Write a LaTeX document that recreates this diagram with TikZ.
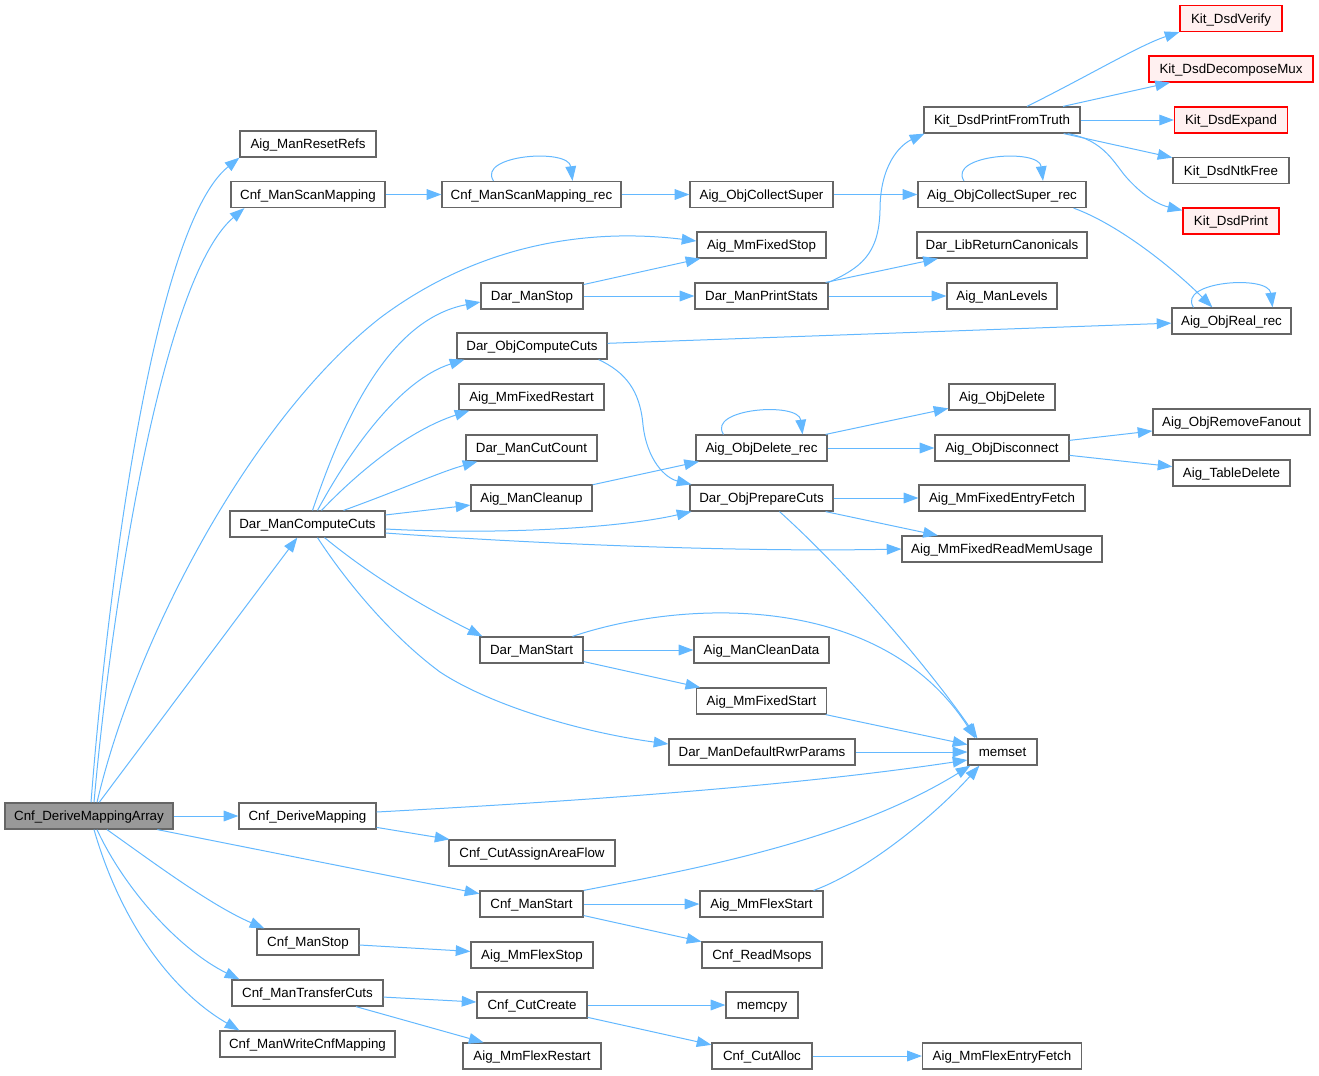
\documentclass[tikz,border=0pt]{standalone}
\usepackage{fontspec}
\setmainfont{Liberation Sans}
\usetikzlibrary{arrows.meta,calc}
\definecolor{edgeblue}{HTML}{63B8FF}
\definecolor{nodeborder}{HTML}{666666}
\definecolor{rootfill}{HTML}{999999}
\definecolor{redfill}{HTML}{FFF0F0}
\definecolor{redborder}{HTML}{FF0000}
\newcommand{\selfloop}[1]{\draw[lnk] ($(#1.north)+(-38,0)$) .. controls +(-17,-26) and +(-4,-33) .. ($(#1.north)+(41,0)$);}
\begin{document}
\begin{tikzpicture}[x=0.75pt,y=-0.75pt,
  fnode/.style={draw=nodeborder, fill=white, line width=0.9pt, minimum height=19.5pt, inner sep=0pt,
    text height=8.25pt, text depth=1pt, font=\fontsize{10pt}{12pt}\selectfont},
  rootnode/.style={fnode, fill=rootfill},
  rednode/.style={fnode, draw=redborder, fill=redfill},
  bw/.style={minimum width=#1*0.75pt},
  lnk/.style={draw=edgeblue, line width=0.75pt, -{Triangle[length=11pt,width=8pt]}}
]
\useasboundingbox (0,0) rectangle (1319,1075);

% nodes
\node[rootnode,bw=168] (DMA) at (89,816) {Cnf\_DeriveMappingArray};
\node[fnode,bw=136] (RR) at (308,144) {Aig\_ManResetRefs};
\node[fnode,bw=154] (CSM) at (308,194.5) {Cnf\_ManScanMapping};
\node[fnode,bw=179] (CSMR) at (531.5,194.5) {Cnf\_ManScanMapping\_rec};
\node[fnode,bw=143] (OCS) at (761.5,194.5) {Aig\_ObjCollectSuper};
\node[fnode,bw=168] (OCSR) at (1002,194.5) {Aig\_ObjCollectSuper\_rec};
\node[fnode,bw=156] (KPT) at (1002,120) {Kit\_DsdPrintFromTruth};
\node[rednode,bw=102] (KV) at (1231,18.5) {Kit\_DsdVerify};
\node[rednode,bw=164] (KDM) at (1231,69) {Kit\_DsdDecomposeMux};
\node[rednode,bw=113] (KE) at (1231,120) {Kit\_DsdExpand};
\node[fnode,bw=116] (KNF) at (1231,170.5) {Kit\_DsdNtkFree};
\node[rednode,bw=96] (KP) at (1231,221) {Kit\_DsdPrint};
\node[fnode,bw=129] (MFStop) at (761.5,245) {Aig\_MmFixedStop};
\node[fnode,bw=170] (LRC) at (1002,245) {Dar\_LibReturnCanonicals};
\node[fnode,bw=102] (DMStop) at (532,296) {Dar\_ManStop};
\node[fnode,bw=133] (DMPS) at (761.5,296) {Dar\_ManPrintStats};
\node[fnode,bw=110] (AML) at (1002,296) {Aig\_ManLevels};
\node[fnode,bw=119] (ORR) at (1231.5,321) {Aig\_ObjReal\_rec};
\node[fnode,bw=150] (DOCC) at (532,346) {Dar\_ObjComputeCuts};
\node[fnode,bw=145] (MFR) at (531.5,397) {Aig\_MmFixedRestart};
\node[fnode,bw=106] (AOD) at (1002,397) {Aig\_ObjDelete};
\node[fnode,bw=157] (ORF) at (1231.5,422) {Aig\_ObjRemoveFanout};
\node[fnode,bw=131] (DMCC) at (531.5,448) {Dar\_ManCutCount};
\node[fnode,bw=131] (AODR) at (761.5,448) {Aig\_ObjDelete\_rec};
\node[fnode,bw=134] (AODis) at (1002,448) {Aig\_ObjDisconnect};
\node[fnode,bw=117] (ATD) at (1231.5,473) {Aig\_TableDelete};
\node[fnode,bw=121] (AMC) at (531.5,498) {Aig\_ManCleanup};
\node[fnode,bw=143] (DOPC) at (761.5,498) {Dar\_ObjPrepareCuts};
\node[fnode,bw=166] (MFEF) at (1002,498) {Aig\_MmFixedEntryFetch};
\node[fnode,bw=155] (DMC) at (307.5,524) {Dar\_ManComputeCuts};
\node[fnode,bw=200] (MFRMU) at (1002,549) {Aig\_MmFixedReadMemUsage};
\node[fnode,bw=103] (DMStart) at (531.5,650) {Dar\_ManStart};
\node[fnode,bw=135] (AMCD) at (761.5,650) {Aig\_ManCleanData};
\node[fnode,bw=130] (MFStart) at (761.5,701) {Aig\_MmFixedStart};
\node[fnode,bw=186] (DRWR) at (762,752) {Dar\_ManDefaultRwrParams};
\node[fnode,bw=69] (memset) at (1002.5,752) {memset};
\node[fnode,bw=137] (CDM) at (307.5,816) {Cnf\_DeriveMapping};
\node[fnode,bw=166] (CCAAF) at (532,853) {Cnf\_CutAssignAreaFlow};
\node[fnode,bw=103] (CMStart) at (531.5,904) {Cnf\_ManStart};
\node[fnode,bw=123] (FlexStart) at (761.5,904) {Aig\_MmFlexStart};
\node[fnode,bw=102] (CMStop) at (308,942) {Cnf\_ManStop};
\node[fnode,bw=122] (FlexStop) at (532,955) {Aig\_MmFlexStop};
\node[fnode,bw=120] (CRM) at (762,955) {Cnf\_ReadMsops};
\node[fnode,bw=151] (CMTC) at (307.5,993) {Cnf\_ManTransferCuts};
\node[fnode,bw=110] (CCC) at (532,1005) {Cnf\_CutCreate};
\node[fnode,bw=72] (memcpy) at (762,1005) {memcpy};
\node[fnode,bw=175] (CMWCM) at (307.5,1044) {Cnf\_ManWriteCnfMapping};
\node[fnode,bw=138] (FlexRestart) at (532,1056) {Aig\_MmFlexRestart};
\node[fnode,bw=100] (CCA) at (762,1056) {Cnf\_CutAlloc};
\node[fnode,bw=159] (FlexEF) at (1002,1056) {Aig\_MmFlexEntryFetch};

% edges from Cnf_DeriveMappingArray
\draw[lnk] ($(DMA.north)+(2,0)$) .. controls (105,620) and (150,230) .. (RR.south west);
\draw[lnk] ($(DMA.north)+(5,0)$) .. controls (110,620) and (160,280) .. ($(CSM.south west)+(14,0)$);
\draw[lnk] ($(DMA.north)+(8,0)$) .. controls (135,640) and (250,420) .. (380,318) .. controls (480,243) and (590,228) .. ($(MFStop.west)+(0,-4)$);
\draw[lnk] (DMA) -- (DMC);
\draw[lnk] (DMA) -- (CDM);
\draw[lnk] (DMA) -- (CMStart);
\draw[lnk] ($(DMA.south)+(18,0)$) .. controls (150,860) and (210,905) .. ($(CMStop.north west)+(8,0)$);
\draw[lnk] ($(DMA.south)+(8,0)$) .. controls (125,890) and (180,950) .. ($(CMTC.north west)+(8,0)$);
\draw[lnk] ($(DMA.south)+(5,0)$) .. controls (120,920) and (170,990) .. ($(CMWCM.north west)+(20,0)$);

% scan mapping chain
\draw[lnk] (CSM) -- (CSMR);
\selfloop{CSMR}
\draw[lnk] (CSMR) -- (OCS);
\draw[lnk] (OCS) -- (OCSR);
\selfloop{OCSR}
\draw[lnk] ($(OCSR.south east)+(-13,0)$) .. controls (1120,225) and (1175,270) .. ($(ORR.north west)+(41,0)$);
\selfloop{ORR}

% Kit_DsdPrintFromTruth
\draw[lnk] ($(KPT.north)+(25,0)$) .. controls (1090,75) and (1140,45) .. (KV.south west);
\draw[lnk] (KPT) -- (KDM);
\draw[lnk] (KPT) -- (KE);
\draw[lnk] (KPT) -- (KNF);
\draw[lnk] ($(KPT.south east)+(-13,0)$) .. controls (1105,140) and (1115,165) .. (1127,178) .. controls (1145,198) and (1160,205) .. ($(KP.north west)+(0,3)$);

% Dar_ManStop / Dar_ManPrintStats
\draw[lnk] (DMStop) -- (MFStop);
\draw[lnk] (DMStop) -- (DMPS);
\draw[lnk] (DMPS.north east) .. controls (860,268) and (879,255) .. (880,210) .. controls (880,165) and (900,145) .. ($(KPT.south west)+(1,0)$);
\draw[lnk] (DMPS) -- (LRC);
\draw[lnk] (DMPS) -- (AML);

% Dar_ObjComputeCuts
\draw[lnk] (DOCC) -- (ORR);
\draw[lnk] ($(DOCC.south east)+(-9,0)$) .. controls (625,372) and (640,390) .. (643,425) .. controls (647,460) and (665,478) .. ($(DOPC.north west)+(2,0)$);

% Dar_ManComputeCuts
\draw[lnk] ($(DMC.north)+(5,0)$) .. controls (340,430) and (385,320) .. ($(DMStop.west)+(0,6)$);
\draw[lnk] ($(DMC.north)+(10,0)$) .. controls (350,450) and (400,380) .. ($(DOCC.south west)+(8,0)$);
\draw[lnk] ($(DMC.north)+(14,0)$) .. controls (360,470) and (410,430) .. ($(MFR.south west)+(11,0)$);
\draw[lnk] ($(DMC.north)+(36,0)$) .. controls (400,490) and (440,472) .. ($(DMCC.south west)+(12,0)$);
\draw[lnk] (DMC) -- (AMC);
\draw[lnk] ($(DMC.east)+(0,5)$) .. controls (500,535) and (620,528) .. ($(DOPC.south west)+(2,0)$);
\draw[lnk] ($(DMC.east)+(0,9)$) .. controls (550,545) and (750,552) .. (MFRMU.west);
\draw[lnk] ($(DMC.south)+(17,0)$) .. controls (370,575) and (420,605) .. ($(DMStart.north west)+(3,0)$);
\draw[lnk] ($(DMC.south)+(10,0)$) .. controls (345,580) and (390,635) .. (440,672) .. controls (490,705) and (580,732) .. ($(DRWR.west)+(0,-8)$);

% Aig_ManCleanup / Aig_ObjDelete_rec
\draw[lnk] (AMC) -- (AODR);
\selfloop{AODR}
\draw[lnk] (AODR) -- (AOD);
\draw[lnk] (AODR) -- (AODis);
\draw[lnk] (AODis) -- (ORF);
\draw[lnk] (AODis) -- (ATD);

% Dar_ObjPrepareCuts
\draw[lnk] (DOPC) -- (MFEF);
\draw[lnk] (DOPC) -- (MFRMU);
\draw[lnk] ($(DOPC.south)+(18,0)$) .. controls (850,575) and (930,670) .. ($(memset.north west)+(10,0)$);

% Dar_ManStart
\draw[lnk] ($(DMStart.north)+(41,0)$) .. controls (680,600) and (880,590) .. ($(memset.north west)+(8,0)$);
\draw[lnk] (DMStart) -- (AMCD);
\draw[lnk] (DMStart) -- (MFStart);
\draw[lnk] (MFStart) -- (memset);
\draw[lnk] (DRWR) -- (memset);

% Cnf_DeriveMapping
\draw[lnk] ($(CDM.east)+(0,-4)$) .. controls (600,800) and (800,785) .. ($(memset.west)+(0,8)$);
\draw[lnk] (CDM) -- (CCAAF);

% Cnf_ManStart
\draw[lnk] (CMStart.north east) .. controls (700,868) and (850,840) .. ($(memset.south west)+(3,0)$);
\draw[lnk] (CMStart) -- (FlexStart);
\draw[lnk] (CMStart) -- (CRM);
\draw[lnk] ($(FlexStart.north east)+(-10,0)$) .. controls (870,870) and (940,810) .. ($(memset.south west)+(12,0)$);

% remaining
\draw[lnk] (CMStop) -- (FlexStop);
\draw[lnk] (CMTC) -- (CCC);
\draw[lnk] (CMTC) -- (FlexRestart);
\draw[lnk] (CCC) -- (memcpy);
\draw[lnk] (CCC) -- (CCA);
\draw[lnk] (CCA) -- (FlexEF);
\end{tikzpicture}
\end{document}
